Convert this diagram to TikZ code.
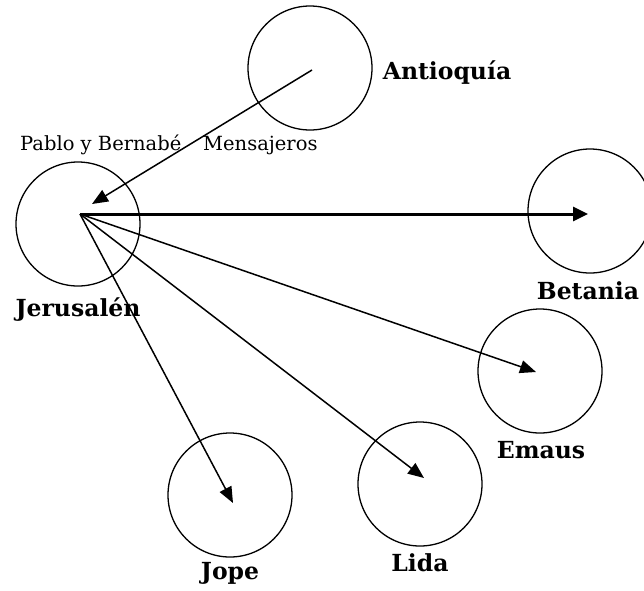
\documentclass[tikz,border=0pt]{standalone}
\usepackage{fontspec}
\setmainfont{DejaVu Serif}
\usetikzlibrary{arrows.meta}
\begin{document}
\begin{tikzpicture}[x=1pt,y=-1pt,
  city/.style={draw,circle,line width=1.3pt,minimum size=124pt,inner sep=0pt},
  lbl/.style={font=\bfseries\fontsize{23.5}{26}\selectfont,inner sep=0pt,anchor=base},
  small/.style={font=\fontsize{19.5}{22}\selectfont,inner sep=0pt,anchor=base west},
  arr/.style={line width=1.5pt,-{Triangle[length=16pt,width=13pt]}},
  thick arr/.style={line width=3pt,-{Triangle[length=15pt,width=14pt]}}]
\useasboundingbox (0,0) rectangle (644,590);
\node[city] (ant) at (310,68) {};
\node[city] (jer) at (78,224) {};
\node[city] (bet) at (590,211) {};
\node[city] (ema) at (540,371) {};
\node[city] (lid) at (420,484) {};
\node[city] (jop) at (230,495) {};
\coordinate (o) at (80,214);
\coordinate (a0) at (312,70);
\coordinate (aj) at (92,204);
\coordinate (tb) at (588,214);
\coordinate (te) at (536,372);
\coordinate (tl) at (424,478);
\coordinate (tj) at (233,503);
\draw[arr] (a0) -- (aj);
\draw[thick arr] (o) -- (tb);
\draw[arr] (o) -- (te);
\draw[arr] (o) -- (tl);
\draw[arr] (o) -- (tj);
\node[lbl] (lant) at (447,79) {Antioquía};
\node[lbl] (ljer) at (78,316) {Jerusalén};
\node[lbl] (lbet) at (588,299) {Betania};
\node[lbl] (lema) at (541,458) {Emaus};
\node[lbl] (llid) at (420,571) {Lida};
\node[lbl] (ljop) at (230,579) {Jope};
\node[small] (pab) at (20,150) {Pablo y Bernabé};
\node[small] (men) at (203,150) {Mensajeros};
\end{tikzpicture}
\end{document}
